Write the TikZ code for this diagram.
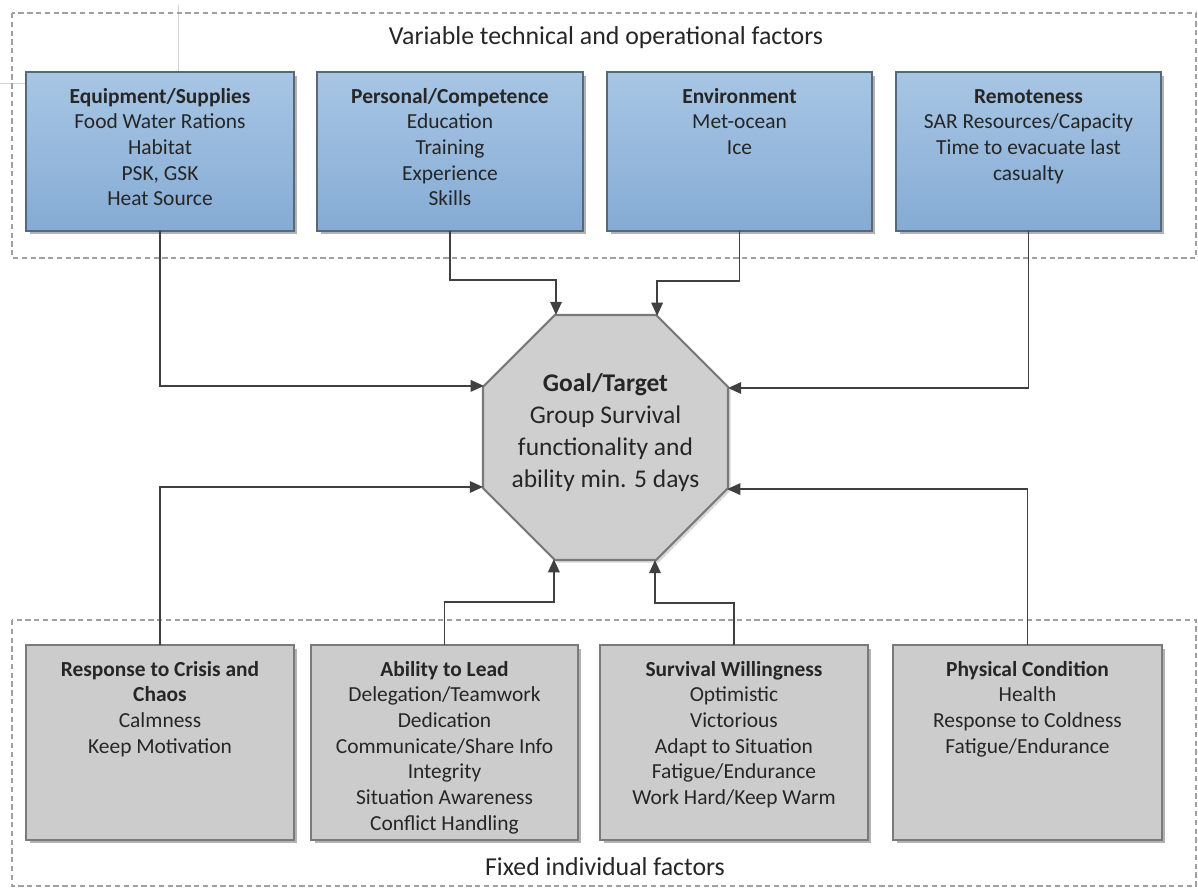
\documentclass[tikz,border=0pt]{standalone}
\usepackage{fontspec}
\setmainfont{Carlito}
\usetikzlibrary{arrows.meta,shadows,shapes.geometric}
\definecolor{txt}{HTML}{262626}
\definecolor{blueT}{HTML}{A8C6E4}
\definecolor{blueB}{HTML}{85ABD4}
\definecolor{blueEdge}{HTML}{56687A}
\definecolor{grayFill}{HTML}{CCCCCC}
\definecolor{grayEdge}{HTML}{7A7A7A}
\definecolor{arrowc}{HTML}{404040}
\definecolor{frame}{HTML}{A0A0A0}
\begin{document}
\begin{tikzpicture}[x=0.02cm,y=-0.02cm,
  boxshadow/.style={drop shadow={shadow xshift=2pt,shadow yshift=-2pt,fill=black,opacity=0.3}},
  topbox/.style={draw=blueEdge,line width=0.8pt,top color=blueT,bottom color=blueB,
    minimum height=3.18cm,inner sep=0pt,outer sep=0pt,boxshadow},
  botbox/.style={draw=grayEdge,line width=0.8pt,fill=grayFill,
    minimum height=3.9cm,inner sep=0pt,outer sep=0pt,boxshadow},
  boxtxt/.style={anchor=north,align=center,inner sep=0pt,text=txt,
    font=\fontsize{12.2}{14.6}\selectfont},
  goalshape/.style={regular polygon,regular polygon sides=8,minimum size=5.304cm,
    inner sep=0pt,outer sep=0pt,draw=grayEdge,line width=1.2pt,fill=grayFill!95!white,
    drop shadow={shadow xshift=1.5pt,shadow yshift=-1.5pt,fill=black,opacity=0.15}},
  goaltxt/.style={anchor=north,align=center,inner sep=0pt,text=txt,
    font=\fontsize{14.5}{18.2}\selectfont},
  grouptitle/.style={text=txt,inner sep=0pt,font=\fontsize{14.7}{17}\selectfont},
  groupframe/.style={draw=frame,densely dashed,line width=0.6pt},
  guide/.style={draw=gray!35,line width=0.4pt},
  arr/.style={draw=arrowc,line width=1.1pt,-{Triangle[length=7.5pt,width=6.5pt]}}
]
\useasboundingbox (0,0) rectangle (1198,888);

% faint guide lines
\draw[guide] (178,5) -- (178,72);
\draw[guide] (0,83) -- (26,83);

% group frames
\draw[groupframe] (12,13) rectangle (1196,258);
\draw[groupframe] (12,620) rectangle (1196,886);
\node[grouptitle] (ttop) at (606,38) {Variable technical and operational factors};
\node[grouptitle] (tbot) at (605,867) {Fixed individual factors};

% top boxes
\node[topbox,minimum width=5.36cm] (b1) at (160,151.5) {};
\node[topbox,minimum width=5.32cm] (b2) at (450,151.5) {};
\node[topbox,minimum width=5.30cm] (b3) at (739.5,151.5) {};
\node[topbox,minimum width=5.30cm] (b4) at (1028.5,151.5) {};

\node[boxtxt] (b1t) at ([yshift=-7.6pt]b1.north) {\rule{0pt}{10pt}\textbf{Equipment/Supplies}\\Food Water Rations\\Habitat\\PSK, GSK\\Heat Source};
\node[boxtxt] (b2t) at ([yshift=-7.6pt]b2.north) {\rule{0pt}{10pt}\textbf{Personal/Competence}\\Education\\Training\\Experience\\Skills};
\node[boxtxt] (b3t) at ([yshift=-7.6pt]b3.north) {\rule{0pt}{10pt}\textbf{Environment}\\Met-ocean\\Ice};
\node[boxtxt] (b4t) at ([yshift=-7.6pt]b4.north) {\rule{0pt}{10pt}\textbf{Remoteness}\\SAR Resources/Capacity\\Time to evacuate last\\casualty};

% bottom boxes
\node[botbox,minimum width=5.36cm] (b5) at (160,742.5) {};
\node[botbox,minimum width=5.34cm] (b6) at (444.5,742.5) {};
\node[botbox,minimum width=5.36cm] (b7) at (734,742.5) {};
\node[botbox,minimum width=5.38cm] (b8) at (1027.5,742.5) {};

\node[boxtxt] (b5t) at ([yshift=-7.6pt]b5.north) {\rule{0pt}{10pt}\textbf{Response to Crisis and}\\\textbf{Chaos}\\Calmness\\Keep Motivation};
\node[boxtxt] (b6t) at ([yshift=-7.6pt]b6.north) {\rule{0pt}{10pt}\textbf{Ability to Lead}\\Delegation/Teamwork\\Dedication\\Communicate/Share Info\\Integrity\\Situation Awareness\\Conflict Handling};
\node[boxtxt] (b7t) at ([yshift=-7.6pt]b7.north) {\rule{0pt}{10pt}\textbf{Survival Willingness}\\Optimistic\\Victorious\\Adapt to Situation\\Fatigue/Endurance\\Work Hard/Keep Warm};
\node[boxtxt] (b8t) at ([yshift=-7.6pt]b8.north) {\rule{0pt}{10pt}\textbf{Physical Condition}\\Health\\Response to Coldness\\Fatigue/Endurance};

% goal octagon
\node[goalshape] (goal) at (605.5,437.5) {};
\node[goaltxt] (goalt) at (605.5,370) {\rule{0pt}{12pt}\textbf{Goal/Target}\\Group Survival\\functionality and\\ability min. 5 days};

% connectors
\draw[arr] (b1.south) |- (goal.157.5);
\draw[arr] (b2.south) |- ([yshift=0.7cm]goal.112.5) -- (goal.112.5);
\draw[arr] (b3.south) |- ([yshift=0.7cm]goal.67.5) -- (goal.67.5);
\draw[arr] (b4.south) |- (goal.22.5);
\draw[arr] (b5.north) |- (goal.202.5);
\draw[arr] (b6.north) |- ([yshift=-0.86cm]goal.247.5) -- (goal.247.5);
\draw[arr] (b7.north) |- ([yshift=-0.86cm]goal.292.5) -- (goal.292.5);
\draw[arr] (b8.north) |- (goal.337.5);
\end{tikzpicture}
\end{document}
